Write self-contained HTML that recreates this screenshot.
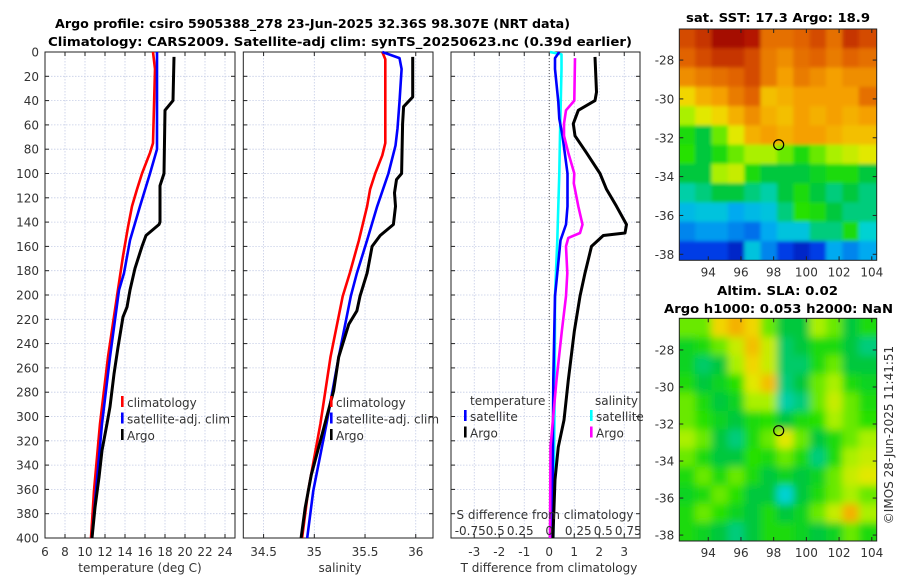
<!DOCTYPE html>
<html><head><meta charset="utf-8"><style>
html,body{margin:0;padding:0;background:#fff;}
svg{display:block;font-family:"DejaVu Sans","Liberation Sans",sans-serif;}
.t{font-size:12px;fill:#333;}
.b{font-weight:bold;font-size:12px;fill:#000;}
</style></head><body>
<svg id="fig" width="900" height="580" viewBox="0 0 900 580" xmlns="http://www.w3.org/2000/svg">
<defs><filter id="blur1" x="-5%" y="-5%" width="110%" height="110%"><feGaussianBlur stdDeviation="1.8"/></filter>
<filter id="blur2" x="-5%" y="-5%" width="110%" height="110%"><feGaussianBlur stdDeviation="4"/></filter></defs>
<text class="b" x="55" y="28" textLength="515" lengthAdjust="spacingAndGlyphs">Argo profile: csiro 5905388_278 23-Jun-2025 32.36S 98.307E (NRT data)</text>
<text class="b" x="48" y="46" textLength="584" lengthAdjust="spacingAndGlyphs">Climatology: CARS2009. Satellite-adj clim: synTS_20250623.nc (0.39d earlier)</text>
<text class="b" x="686" y="22" textLength="184" lengthAdjust="spacingAndGlyphs">sat. SST: 17.3 Argo: 18.9</text>
<text class="b" x="717" y="295" textLength="121" lengthAdjust="spacingAndGlyphs">Altim. SLA: 0.02</text>
<text class="b" x="664" y="313" textLength="229" lengthAdjust="spacingAndGlyphs">Argo h1000: 0.053 h2000: NaN</text>
<text class="t" transform="translate(893,435) rotate(-90)" text-anchor="middle">©IMOS 28-Jun-2025 11:41:51</text>
<g id="layer"></g>
</svg>
<script>
// ---- data ----
const depthTicks=[0,20,40,60,80,100,120,140,160,180,200,220,240,260,280,300,320,340,360,380,400];
const tTicks=[6,8,10,12,14,16,18,20,22,24];
const sTicks=[34.5,35,35.5,36];
const sTickLabels=["34.5","35","35.5","36"];
const dTicks=[-3,-2,-1,0,1,2,3];
const sdTickLabels=["-0.75","0.5","0.25","0","0.25","0.5","0.75"];

const climTD=[0,14,75,83,100,113,127,144,168,201,251,306,361,400];
const climT=[16.8,17.0,16.8,16.5,15.7,15.2,14.7,14.3,13.8,13.2,12.3,11.5,10.9,10.6];
const satTD=[0,80,100,127,155,182,196,251,306,361,400];
const satT=[17.2,17.2,16.5,15.5,14.5,13.9,13.4,12.5,11.7,11.1,10.7];
const argoTD=[4,40,48,100,110,140,142,151,160,178,196,210,218,243,265,292,306,328,350,375,400];
const argoT=[18.9,18.8,18.0,17.9,17.5,17.5,17.4,16.1,15.7,15.0,14.5,14.2,13.8,13.3,12.9,12.5,12.2,11.7,11.4,11.0,10.7];

const climSD=[0,6,75,85,100,113,127,155,182,201,251,306,361,400];
const climS=[35.67,35.70,35.70,35.67,35.60,35.55,35.52,35.44,35.35,35.28,35.16,35.06,34.94,34.88];
const satSD=[0,5,14,41,63,77,100,127,155,182,201,251,306,361,400];
const satS=[35.67,35.84,35.86,35.84,35.82,35.80,35.73,35.62,35.52,35.42,35.36,35.24,35.12,34.99,34.93];
const argoSD=[4,37,45,59,100,105,116,127,142,151,160,182,201,213,224,251,279,320,348,375,400];
const argoS=[35.97,35.97,35.88,35.87,35.86,35.81,35.79,35.80,35.78,35.65,35.57,35.52,35.45,35.42,35.34,35.24,35.19,35.06,34.97,34.91,34.87];

const dSatTD=[0,5,14,41,55,69,100,127,142,155,182,201,270,400];
const dSatT=[0.4,0.23,0.23,0.36,0.4,0.53,0.73,0.73,0.67,0.45,0.32,0.23,0.16,0.12];
const dSatSD=[0,2,14,69,100,127,155,201,270,400];
const dSatS=[0.03,0.49,0.49,0.43,0.4,0.36,0.32,0.23,0.22,0.16];
const dArgoTD=[4,33,40,48,59,69,83,100,113,127,142,149,151,160,182,201,230,270,303,325,352,391,400];
const dArgoT=[1.83,1.89,1.83,1.16,0.96,1.03,1.49,2.03,2.29,2.69,3.09,3.03,2.16,1.69,1.43,1.23,1.0,0.76,0.59,0.36,0.23,0.16,0.15];
const dArgoSD=[5,40,48,59,69,83,100,108,127,142,149,153,160,182,201,230,270,325,400];
const dArgoS=[1.03,1.0,0.67,0.59,0.59,0.76,1.0,0.98,1.16,1.33,1.23,0.76,0.67,0.72,0.67,0.5,0.29,0.05,0.03];

const sstLon=[92.7,93.7,94.7,95.7,96.7,97.7,98.7,99.7,100.7,101.7,102.7,103.7];
const sstGrid=[
[0.85,0.88,0.95,0.95,0.92,0.8,0.8,0.82,0.85,0.8,0.88,0.85],
[0.82,0.85,0.88,0.88,0.85,0.78,0.75,0.8,0.82,0.78,0.82,0.8],
[0.75,0.78,0.8,0.82,0.85,0.78,0.72,0.78,0.75,0.72,0.75,0.75],
[0.65,0.7,0.72,0.78,0.82,0.68,0.7,0.72,0.72,0.72,0.72,0.8],
[0.58,0.62,0.65,0.7,0.75,0.7,0.68,0.72,0.7,0.72,0.7,0.72],
[0.5,0.45,0.55,0.62,0.7,0.72,0.7,0.72,0.72,0.7,0.68,0.68],
[0.52,0.45,0.5,0.55,0.58,0.58,0.55,0.5,0.55,0.58,0.6,0.62],
[0.45,0.45,0.58,0.6,0.5,0.45,0.45,0.45,0.48,0.5,0.5,0.45],
[0.4,0.42,0.45,0.45,0.42,0.4,0.45,0.5,0.45,0.42,0.45,0.42],
[0.33,0.35,0.35,0.3,0.33,0.35,0.42,0.52,0.5,0.45,0.42,0.42],
[0.25,0.28,0.28,0.25,0.22,0.3,0.35,0.35,0.42,0.42,0.5,0.38],
[0.15,0.15,0.15,0.1,0.35,0.25,0.15,0.1,0.15,0.3,0.25,0.3]];
const slaGrid=[
[0.55,0.55,0.65,0.7,0.65,0.55,0.45,0.45,0.58,0.55,0.45,0.5],
[0.48,0.5,0.55,0.6,0.68,0.6,0.43,0.45,0.5,0.5,0.45,0.42],
[0.48,0.43,0.45,0.58,0.65,0.6,0.43,0.43,0.5,0.55,0.45,0.45],
[0.5,0.45,0.48,0.52,0.62,0.68,0.42,0.45,0.55,0.58,0.5,0.48],
[0.55,0.5,0.45,0.48,0.58,0.58,0.4,0.42,0.55,0.6,0.55,0.5],
[0.55,0.52,0.48,0.45,0.5,0.52,0.45,0.5,0.52,0.58,0.55,0.52],
[0.58,0.55,0.45,0.42,0.5,0.55,0.62,0.55,0.45,0.5,0.55,0.58],
[0.55,0.5,0.45,0.45,0.52,0.5,0.55,0.5,0.42,0.5,0.58,0.6],
[0.5,0.55,0.5,0.55,0.5,0.45,0.48,0.45,0.48,0.55,0.6,0.62],
[0.48,0.5,0.55,0.52,0.45,0.45,0.38,0.45,0.5,0.55,0.58,0.55],
[0.5,0.55,0.52,0.48,0.45,0.5,0.45,0.48,0.55,0.6,0.7,0.58],
[0.5,0.48,0.45,0.42,0.45,0.5,0.5,0.48,0.45,0.48,0.55,0.5]];
const lonTicks=[94,96,98,100,102,104];
const latTicks=[-28,-30,-32,-34,-36,-38];
const argoLon=98.307, argoLat=-32.36;

// ---- helpers ----
const NS="http://www.w3.org/2000/svg";
const layer=document.getElementById('layer');
function mk(tag,attrs,parent){const e=document.createElementNS(NS,tag);for(const k in attrs)e.setAttribute(k,attrs[k]);(parent||layer).appendChild(e);return e;}
function txt(x,y,s,anchor,cls,parent){const e=mk('text',{x:x,y:y,'text-anchor':anchor||'middle','class':cls||'t'},parent);e.textContent=s;return e;}
const Y0=52,Y1=538;
function yD(d){return Y0+d*(Y1-Y0)/400;}

function panel(name,x0,x1,vmin,vmax,ticks,labels,showY){
  const g=mk('g',{});
  
  
  const sx=v=>x0+(v-vmin)*(x1-x0)/(vmax-vmin);
  depthTicks.forEach(d=>{
    const l=mk('line',{x1:x0,x2:x1,y1:yD(d),y2:yD(d),stroke:'#c5cde6','stroke-width':0.8,'stroke-dasharray':'1.5,1.5'},g);
    
    
    mk('line',{x1:x0,x2:x0+4,y1:yD(d),y2:yD(d),stroke:'#222'},g);
    mk('line',{x1:x1-4,x2:x1,y1:yD(d),y2:yD(d),stroke:'#222'},g);
    if(showY){const t=txt(x0-6,yD(d)+4.5,String(d),'end','t',g);
      
      }
  });
  ticks.forEach((v,i)=>{
    const x=sx(v);
    const l=mk('line',{x1:x,x2:x,y1:Y0,y2:Y1,stroke:'#c5cde6','stroke-width':0.8,'stroke-dasharray':'1.5,1.5'},g);
    
    
    mk('line',{x1:x,x2:x,y1:Y1,y2:Y1-4,stroke:'#222'},g);
    mk('line',{x1:x,x2:x,y1:Y0,y2:Y0+4,stroke:'#222'},g);
    const t=txt(x,556,labels[i],'middle','t',g);
    
    
  });
  const r=mk('rect',{x:x0,y:Y0,width:x1-x0,height:Y1-Y0,fill:'none',stroke:'#222','stroke-width':1},g);
  
  
  return {g,sx};
}
function profile(p,vals,depths,color,name,w){
  const pts=vals.map((v,i)=>p.sx(v).toFixed(1)+','+yD(depths[i]).toFixed(1)).join(' ');
  const l=mk('polyline',{points:pts,fill:'none',stroke:color,'stroke-width':w||2.6,'stroke-linejoin':'round'},p.g);
  
  
}
function legend(g,x,y,items){
  items.forEach((it,i)=>{
    const yy=y+i*16.5;
    mk('rect',{x:x,y:yy-11,width:2.6,height:11,fill:it[1]},g);
    const t=txt(x+6,yy,it[0],'start','t',g);
    
    
  });
}

// panel 1 temperature
const p1=panel('temperature-panel',45,235,6,25,tTicks,tTicks.map(String),true);
profile(p1,climT,climTD,'#f00','climatology-temperature-line');
profile(p1,satT,satTD,'#00f','satellite-temperature-line');
profile(p1,argoT,argoTD,'#000','argo-temperature-line',3);
legend(p1.g,121,407,[['climatology','#f00'],['satellite-adj. clim','#00f'],['Argo','#000']]);
let at=txt(140,572,'temperature (deg C)','middle','t');



// panel 2 salinity
const p2=panel('salinity-panel',243.3,433,34.30,36.17,sTicks,sTickLabels,false);
profile(p2,climS,climSD,'#f00','climatology-salinity-line');
profile(p2,satS,satSD,'#00f','satellite-salinity-line');
profile(p2,argoS,argoSD,'#000','argo-salinity-line',3);
legend(p2.g,330,407,[['climatology','#f00'],['satellite-adj. clim','#00f'],['Argo','#000']]);
at=txt(340,572,'salinity','middle','t');



// panel 3 differences
const p3=panel('difference-panel',451,640,-3.93,3.63,dTicks,dTicks.map(String),false);
const zl=mk('line',{x1:p3.sx(0),x2:p3.sx(0),y1:Y0,y2:Y1,stroke:'#555','stroke-width':1,'stroke-dasharray':'1,2'},p3.g);


profile(p3,dSatS,dSatSD,'#0ff','salinity-satellite-diff-line');
profile(p3,dSatT,dSatTD,'#00f','temperature-satellite-diff-line');
profile(p3,dArgoS,dArgoSD,'#f0f','salinity-argo-diff-line');
profile(p3,dArgoT,dArgoTD,'#000','temperature-argo-diff-line',3);
let lt=txt(470,405,'temperature','start','t',p3.g);


legend(p3.g,464,421,[['satellite','#00f'],['Argo','#000']]);
lt=txt(595,405,'salinity','start','t',p3.g);


legend(p3.g,590,421,[['satellite','#0ff'],['Argo','#f0f']]);
lt=txt(545,519,'S difference from climatology','middle','t',p3.g);


sdTickLabels.forEach((s,i)=>{
  const t=txt(p3.sx(dTicks[i])+ (i<3?-4:i>3?4:0),535,s,'middle','t',p3.g);
  
  
});
at=txt(549,572,'T difference from climatology','middle','t');



// maps
const cmapStops=[[0,[0,0,140]],[0.15,[0,60,230]],[0.3,[0,170,240]],[0.38,[0,210,210]],[0.45,[0,200,60]],[0.52,[40,225,0]],[0.58,[170,240,0]],[0.63,[240,230,0]],[0.72,[245,160,0]],[0.82,[225,100,0]],[0.92,[180,20,0]],[1,[140,0,0]]];
function cmap(v){
  v=Math.max(0,Math.min(1,v));
  for(let i=1;i<cmapStops.length;i++){
    const a=cmapStops[i-1],b=cmapStops[i];
    if(v<=b[0]){const t=(v-a[0])/(b[0]-a[0]);
      const c=a[1].map((x,k)=>Math.round(x+(b[1][k]-x)*t));
      return 'rgb('+c.join(',')+')';}
  }
  return 'rgb(140,0,0)';
}
function map(name,top,bot,latTop,latBot,grid,blur){
  const x0=679.3,x1=876.7,lonL=92.23,lonR=104.3;
  const g=mk('g',{});
  
  
  const sx=lon=>x0+(lon-lonL)*(x1-x0)/(lonR-lonL);
  const sy=lat=>top+(latTop-lat)*(bot-top)/(latTop-latBot);
  const clip=mk('clipPath',{id:name+'-clip'},g);
  mk('rect',{x:x0,y:top,width:x1-x0,height:bot-top},clip);
  const outer=mk('g',{'clip-path':'url(#'+name+'-clip)'},g);
  const cg=mk('g',{filter:'url(#'+blur+')'},outer);
  const nr=grid.length,nc=grid[0].length;
  const dLat=(latTop-latBot)/nr;
  grid.forEach((row,i)=>row.forEach((v,j)=>{
    let lonA=sstLon[j]-0.5, lonB=sstLon[j]+0.5;
    if(j==0) lonA-=1; if(j==nc-1) lonB+=1;
    let latA=latTop-i*dLat, latB=latA-dLat;
    if(i==0) latA+=1; if(i==nr-1) latB-=1;
    const c=mk('rect',{x:sx(lonA),y:sy(latA),width:sx(lonB)-sx(lonA)+0.6,height:sy(latB)-sy(latA)+0.6,fill:cmap(v)},cg);
    
    
  }));
  lonTicks.forEach(l=>{
    const x=sx(l);
    mk('line',{x1:x,x2:x,y1:bot,y2:bot-4,stroke:'#222'},g);
    mk('line',{x1:x,x2:x,y1:top,y2:top+4,stroke:'#222'},g);
    const t=txt(x,bot+16,String(l),'middle','t',g);
    
    
  });
  latTicks.forEach(l=>{
    const y=sy(l);
    mk('line',{x1:x0,x2:x0+4,y1:y,y2:y,stroke:'#222'},g);
    mk('line',{x1:x1-4,x2:x1,y1:y,y2:y,stroke:'#222'},g);
    const t=txt(x0-5,y+4.5,String(l),'end','t',g);
    
    
  });
  const f=mk('rect',{x:x0,y:top,width:x1-x0,height:bot-top,fill:'none',stroke:'#222'},g);
  
  
  const c=mk('circle',{cx:sx(argoLon),cy:sy(argoLat),r:5,fill:'none',stroke:'#000','stroke-width':1.2},g);
  
  
}
map('sst-map',29,260.3,-26.4,-38.31,sstGrid,'blur1');
map('sla-map',318.3,541,-26.29,-38.32,slaGrid,'blur2');
</script>
</body></html>
